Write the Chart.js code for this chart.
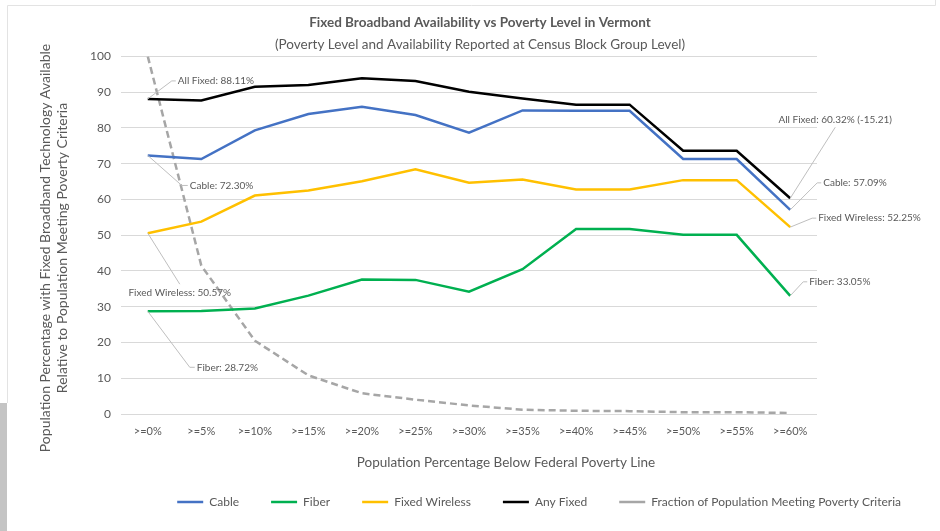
<!DOCTYPE html>
<html>
<head>
<meta charset="utf-8">
<script src="https://cdn.jsdelivr.net/npm/chart.js@4.4.0/dist/chart.umd.min.js"></script>
<style>
  body { margin: 0; background: #fff; }
  #wrap { width: 940px; height: 531px; }
</style>
</head>
<body>
<div id="wrap"><canvas id="broadbandChart" width="940" height="531"></canvas></div>
<script>
// values
const categories = ['>=0%', '>=5%', '>=10%', '>=15%', '>=20%', '>=25%', '>=30%', '>=35%', '>=40%', '>=45%', '>=50%', '>=55%', '>=60%'];
const cable = [72.30, 71.3, 79.3, 83.9, 85.9, 83.6, 78.7, 84.9, 84.8, 84.8, 71.3, 71.3, 57.09];
const fiber = [28.72, 28.8, 29.5, 33.1, 37.6, 37.5, 34.2, 40.5, 51.7, 51.7, 50.1, 50.1, 33.05];
const fixedWireless = [50.57, 53.8, 61.1, 62.5, 65.1, 68.4, 64.7, 65.6, 62.8, 62.8, 65.4, 65.4, 52.25];
const anyFixed = [88.11, 87.7, 91.5, 92.0, 93.9, 93.1, 90.1, 88.2, 86.5, 86.5, 73.6, 73.6, 60.32];
const povertyFraction = [100, 41.5, 20.5, 10.8, 5.8, 4.0, 2.4, 1.2, 0.9, 0.8, 0.5, 0.5, 0.3];
const anyFixedDropNote = '(-15.21)';
const yMin = 0;
const yMax = 100;
const yStep = 10;

const GREY_TEXT = '#595959';
const FONT = 'Lato, "Open Sans", sans-serif';

const pct = (v) => v.toFixed(2) + '%';
const last = categories.length - 1;

// leader-line callouts, anchored on the data point
const callouts = [
  { data: anyFixed, i: 0, text: 'All Fixed: ' + pct(anyFixed[0]), dx: 24, dy: -18, tail: 4 },
  { data: cable, i: 0, text: 'Cable: ' + pct(cable[0]), dx: 34, dy: 30, tail: 6 },
  { data: fixedWireless, i: 0, text: 'Fixed Wireless: ' + pct(fixedWireless[0]), dx: 32, dy: 51, below: true },
  { data: fiber, i: 0, text: 'Fiber: ' + pct(fiber[0]), dx: 42, dy: 56, tail: 5 },
  { data: anyFixed, i: last, text: 'All Fixed: ' + pct(anyFixed[last]) + ' ' + anyFixedDropNote, dx: 45, dy: -71, above: true },
  { data: cable, i: last, text: 'Cable: ' + pct(cable[last]), dx: 27, dy: -27, tail: 4 },
  { data: fixedWireless, i: last, text: 'Fixed Wireless: ' + pct(fixedWireless[last]), dx: 22, dy: -9, tail: 4 },
  { data: fiber, i: last, text: 'Fiber: ' + pct(fiber[last]), dx: 13, dy: -14, tail: 4 },
];

const extrasPlugin = {
  id: 'extras',
  beforeDraw(chart) {
    const { ctx, width, height } = chart;
    ctx.save();
    ctx.fillStyle = '#ffffff';
    ctx.fillRect(0, 0, width, height);
    // frame of the pasted chart
    ctx.strokeStyle = '#e3e3e3';
    ctx.lineWidth = 1;
    ctx.beginPath();
    ctx.moveTo(7.5, 403);
    ctx.lineTo(7.5, 5.5);
    ctx.lineTo(935.5, 5.5);
    ctx.lineTo(935.5, 0);
    ctx.stroke();
    ctx.fillStyle = '#c4c4c4';
    ctx.fillRect(0, 403, 7, height - 403);
    ctx.restore();
  },
  afterDraw(chart) {
    const { ctx } = chart;
    const xs = chart.scales.x;
    const ys = chart.scales.y;
    ctx.save();
    ctx.font = '10px ' + FONT;
    ctx.textBaseline = 'middle';
    callouts.forEach((c) => {
      const px = xs.getPixelForValue(c.i);
      const py = ys.getPixelForValue(c.data[c.i]);
      const ex = px + c.dx;
      const ey = py + c.dy;
      ctx.strokeStyle = '#bfbfbf';
      ctx.lineWidth = 1;
      ctx.beginPath();
      ctx.moveTo(px, py);
      ctx.lineTo(ex, ey);
      if (c.tail) ctx.lineTo(ex + c.tail, ey);
      ctx.stroke();
      ctx.fillStyle = GREY_TEXT;
      if (c.above || c.below) {
        ctx.textAlign = 'center';
        ctx.fillText(c.text, ex, c.above ? ey - 8 : ey + 9);
      } else {
        ctx.textAlign = 'left';
        ctx.fillText(c.text, ex + c.tail + 2, ey);
      }
    });

    // axis titles
    ctx.fillStyle = GREY_TEXT;
    ctx.font = '13.5px ' + FONT;
    ctx.textAlign = 'center';
    ctx.fillText('Population Percentage Below Federal Poverty Line', 506, 463);
    ctx.font = '14px ' + FONT;
    ctx.translate(54, 248);
    ctx.rotate(-Math.PI / 2);
    ctx.fillText('Population Percentage with Fixed Broadband Technology Available', 0, -8.5);
    ctx.fillText('Relative to Population Meeting Poverty Criteria', 0, 8.5);
    ctx.restore();
  },
};

const lineSet = (label, data, color, extra) => Object.assign({
  label,
  data,
  borderColor: color,
  backgroundColor: color,
  borderWidth: 2.5,
  pointRadius: 0,
  pointHoverRadius: 0,
  tension: 0,
  fill: false,
}, extra || {});

const ctx = document.getElementById('broadbandChart').getContext('2d');

// eslint-disable-next-line no-unused-vars
const broadbandChart = new Chart(ctx, {
  type: 'line',
  data: {
    labels: categories,
    datasets: [
      lineSet('Cable', cable, '#4472c4'),
      lineSet('Fiber', fiber, '#00b050'),
      lineSet('Fixed Wireless', fixedWireless, '#ffc000'),
      lineSet('Any Fixed', anyFixed, '#000000'),
      lineSet('Fraction of Population Meeting Poverty Criteria', povertyFraction, '#a6a6a6', { borderDash: [7, 4] }),
    ],
  },
  plugins: [extrasPlugin],
  options: {
    responsive: false,
    animation: false,
    layout: { padding: { top: 6, left: 27, right: 7, bottom: 13 } },
    plugins: {
      title: {
        display: true,
        text: 'Fixed Broadband Availability vs Poverty Level in Vermont',
        color: GREY_TEXT,
        font: { family: FONT, size: 13.5, weight: 'bold', lineHeight: 1.2 },
        padding: { top: 9, bottom: 3 },
      },
      subtitle: {
        display: true,
        text: '(Poverty Level and Availability Reported at Census Block Group Level)',
        color: GREY_TEXT,
        font: { family: FONT, size: 13.5, lineHeight: 1.2 },
        padding: { top: 2, bottom: 4 },
      },
      legend: {
        position: 'bottom',
        align: 'end',
        labels: {
          color: GREY_TEXT,
          font: { family: FONT, size: 12 },
          usePointStyle: true,
          pointStyle: 'line',
          pointStyleWidth: 26,
          padding: 32,
          generateLabels(chart) {
            const items = Chart.defaults.plugins.legend.labels.generateLabels(chart);
            items.forEach((it) => {
              it.pointStyle = 'line';
              if (it.lineDash && it.lineDash.length) it.lineDash = [5, 4];
            });
            return items;
          },
        },
      },
      tooltip: { enabled: false },
    },
    scales: {
      x: {
        offset: true,
        grid: { display: false, drawTicks: false },
        border: { display: false },
        ticks: {
          color: GREY_TEXT,
          font: { family: FONT, size: 11 },
          padding: 11,
          maxRotation: 0,
          autoSkip: false,
        },
        afterFit(scale) { scale.height = 50; },
      },
      y: {
        min: yMin,
        max: yMax,
        grid: { color: '#d9d9d9', lineWidth: 1, drawTicks: false },
        border: { display: false },
        ticks: {
          stepSize: yStep,
          color: GREY_TEXT,
          font: { family: FONT, size: 12 },
          padding: 10,
        },
        afterFit(scale) { scale.width = 94; },
      },
      spacer: {
        position: 'right',
        display: true,
        grid: { display: false },
        border: { display: false },
        ticks: { display: false },
        afterFit(scale) { scale.width = 116; },
      },
    },
  },
});
</script>
</body>
</html>
